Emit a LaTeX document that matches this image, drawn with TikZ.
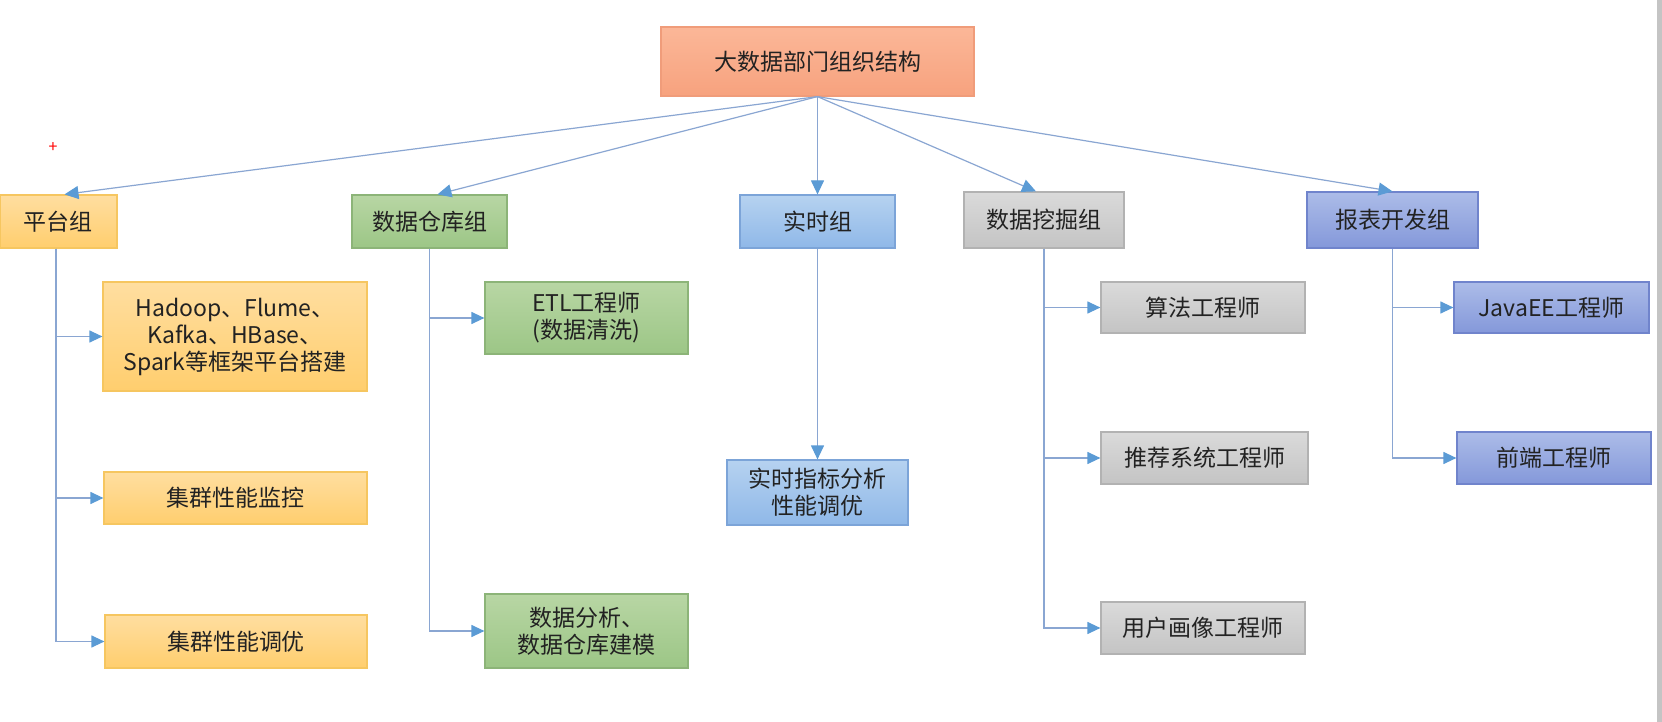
\documentclass[tikz,border=0pt]{standalone}
\usepackage{fontspec}
\setmainfont{Noto Sans CJK SC}
\usetikzlibrary{arrows.meta}

\definecolor{textdark}{HTML}{222222}
\definecolor{linkblue}{HTML}{8AA6D2}
\definecolor{tipblue}{HTML}{5B9BD5}
\definecolor{stripgray}{HTML}{C4C4C4}

\tikzset{
  box/.style={draw, rectangle, inner sep=0pt, align=center, text=textdark,
    font=\fontsize{11.5}{13.5}\selectfont, line width=0.6pt},
  salmonbox/.style={box, top color={rgb,255:red,251;green,183;blue,152}, bottom color={rgb,255:red,247;green,162;blue,126}, draw={rgb,255:red,240;green,156;blue,122}},
  orangebox/.style={box, top color={rgb,255:red,255;green,222;blue,160}, bottom color={rgb,255:red,255;green,206;blue,110}, draw={rgb,255:red,246;green,198;blue,96}},
  greenbox/.style={box, top color={rgb,255:red,184;green,214;blue,164}, bottom color={rgb,255:red,156;green,198;blue,134}, draw={rgb,255:red,140;green,180;blue,120}},
  bluebox/.style={box, top color={rgb,255:red,182;green,210;blue,240}, bottom color={rgb,255:red,143;green,184;blue,232}, draw={rgb,255:red,124;green,164;blue,216}},
  graybox/.style={box, top color={rgb,255:red,218;green,218;blue,218}, bottom color={rgb,255:red,196;green,196;blue,196}, draw={rgb,255:red,178;green,178;blue,178}},
  violetbox/.style={box, top color={rgb,255:red,172;green,188;blue,232}, bottom color={rgb,255:red,132;green,152;blue,218}, draw={rgb,255:red,112;green,132;blue,204}},
  link/.style={draw=linkblue, line width=0.6pt, -{Triangle[length=7pt,width=6.5pt,color=tipblue]}},
  branch/.style={draw=linkblue, line width=0.6pt, -{Triangle[length=6.5pt,width=6pt,color=tipblue]}},
}

\begin{document}
\begin{tikzpicture}[x=0.5pt, y=-0.5pt]

            \fill[white] (0,0) rectangle (1662,722);
            \useasboundingbox (0,0) rectangle (1662,722);
            \fill[stripgray] (1656.5,0) rectangle (1662,722);

            \node (top) [salmonbox, minimum width=156.5pt, minimum height=34.5pt] at (817.5,61.5) {大数据部门组织结构};

            \node (platform) [orangebox, minimum width=58.5pt, minimum height=26.5pt] at (58.5,221.5) {平台组};
            \node (warehouse) [greenbox, minimum width=77.5pt, minimum height=26.5pt] at (429.5,221.5) {数据仓库组};
            \node (realtime) [bluebox, minimum width=77.5pt, minimum height=26.5pt] at (817.5,221.5) {实时组};
            \node (mining) [graybox, minimum width=80pt, minimum height=28pt] at (1044,220) {数据挖掘组};
            \node (report) [violetbox, minimum width=85.5pt, minimum height=28pt] at (1392.5,220) {报表开发组};

            \node (hadoop) [orangebox, minimum width=132pt, minimum height=54.5pt] at (235,336.5) {Hadoop、Flume、\\Kafka、HBase、\\Spark等框架平台搭建};
            \node (monitor) [orangebox, minimum width=131.5pt, minimum height=26pt] at (235.5,498) {集群性能监控};
            \node (tuning) [orangebox, minimum width=131pt, minimum height=26.5pt] at (236,641.5) {集群性能调优};

            \node (etl) [greenbox, minimum width=101.5pt, minimum height=36pt] at (586.5,318) {ETL工程师\\(数据清洗)};
            \node (modeling) [greenbox, minimum width=101.5pt, minimum height=37pt] at (586.5,631) {数据分析、\\数据仓库建模};

            \node (metrics) [bluebox, minimum width=90.5pt, minimum height=32.5pt] at (817.5,492.5) {实时指标分析\\性能调优};

            \node (algo) [graybox, minimum width=102pt, minimum height=25.5pt] at (1203,307.5) {算法工程师};
            \node (recommend) [graybox, minimum width=103.5pt, minimum height=26pt] at (1204.5,458) {推荐系统工程师};
            \node (profile) [graybox, minimum width=102pt, minimum height=26pt] at (1203,628) {用户画像工程师};

            \node (javaee) [violetbox, minimum width=97.5pt, minimum height=25.5pt] at (1551.5,307.5) {JavaEE工程师};
            \node (frontend) [violetbox, minimum width=97pt, minimum height=26pt] at (1554,458) {前端工程师};

            \node (cursor) [text=red, inner sep=0pt, font=\fontsize{8}{8}\selectfont] at (53,148) {+};

            \draw [link] (top.south) -- ([xshift=3pt]platform.north);
            \draw [link] (top.south) -- ([xshift=4pt]warehouse.north);
            \draw [link] (top.south) -- (realtime.north);
            \draw [link] (top.south) -- ([xshift=-4pt]mining.north);
            \draw [link] (top.south) -- (report.north);

            \draw [branch] ([xshift=-1.25pt]platform.south) |- (hadoop.west);
            \draw [branch] ([xshift=-1.25pt]platform.south) |- (monitor.west);
            \draw [branch] ([xshift=-1.25pt]platform.south) |- (tuning.west);

            \draw [branch] (warehouse.south) |- (etl.west);
            \draw [branch] (warehouse.south) |- (modeling.west);

            \draw [link] (realtime.south) -- (metrics.north);

            \draw [branch] (mining.south) |- (algo.west);
            \draw [branch] (mining.south) |- (recommend.west);
            \draw [branch] (mining.south) |- (profile.west);

            \draw [branch] (report.south) |- (javaee.west);
            \draw [branch] (report.south) |- (frontend.west);

        \end{tikzpicture}
\end{document}
